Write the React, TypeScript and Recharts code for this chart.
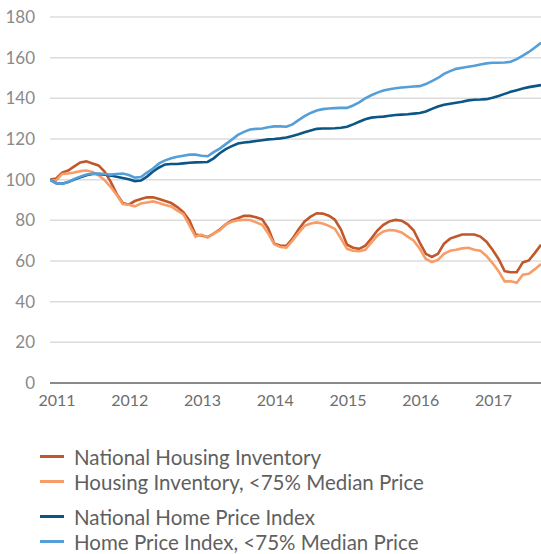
import { CartesianGrid, Line, LineChart, XAxis, YAxis } from "recharts";

const months = Array.from({ length: 82 }, (_, i) => i);

const nationalInventory = [
  100, 100.5, 103.5, 104.5, 106.5, 108.5, 109, 108, 107, 104,
  99, 93, 88.5, 87.7, 89.5, 90.5, 91.3, 91.3, 90.5, 89.5,
  88.5, 86.5, 84, 80, 73, 72.5, 71.8, 73.5, 75.5, 78,
  80, 81, 82.2, 82.2, 81.5, 80.5, 76, 68.5, 67.6, 67.5,
  71, 75.5, 79.5, 81.8, 83.5, 83.3, 82.3, 80.3, 75.5, 68,
  66.5, 66, 67.5, 71, 75, 77.8, 79.5, 80.2, 79.8, 78,
  75, 69, 63.5, 62, 63.5, 68.5, 71, 72, 73, 73,
  73, 72, 69.5, 65.5, 61, 55, 54.5, 54.5, 59.3, 60.3,
  64, 68,
];

const lowTierInventory = [
  100, 99.5, 102.8, 103, 103.5, 104.2, 104.5, 103.8, 102.2, 99.8,
  96.5, 92.5, 88, 87.7, 86.9, 88.3, 88.8, 89.3, 88.5, 87.5,
  86.8, 84.8, 83, 77.5, 72, 73, 71.5, 73.5, 75, 78,
  79.3, 80, 80.3, 80.2, 79, 77.8, 73.5, 68.2, 66.9, 66.6,
  70, 73.8, 77.3, 78.4, 79, 78.4, 77.3, 75.8, 71, 66,
  65, 64.8, 65.5, 69, 72.5, 74.5, 75.2, 75, 74, 72,
  70, 66, 61, 59.5, 60.5, 63.5, 65, 65.5, 66.2, 66.5,
  65.5, 65, 62.5, 59, 55, 50, 50, 49.3, 53.3, 53.7,
  56, 58.5,
];

const nationalHpi = [
  100, 98.3, 98, 98.8, 100, 101.2, 102.2, 102.8, 102.8, 102.5,
  102, 101.4, 100.8, 100.2, 99.3, 99.6, 101.5, 104, 106, 107.5,
  107.7, 107.7, 108, 108.3, 108.5, 108.6, 108.7, 110.5, 113, 115,
  116.5, 117.8, 118.3, 118.6, 119, 119.4, 119.8, 120, 120.3, 120.7,
  121.5, 122.3, 123.3, 124.2, 125, 125.2, 125.2, 125.3, 125.5, 126,
  127.2, 128.5, 129.7, 130.5, 130.8, 131, 131.4, 131.8, 132, 132.2,
  132.5, 132.8, 133.5, 134.8, 136, 136.8, 137.3, 137.8, 138.3, 139,
  139.3, 139.4, 139.6, 140.3, 141.2, 142.2, 143.2, 144, 144.8, 145.5,
  146, 146.5,
];

const lowTierHpi = [
  100, 98.4, 97.9, 98.8, 100.3, 101.5, 102.5, 102.9, 103, 102.8,
  102.5, 102.8, 103, 102.3, 101, 101.3, 103.5, 105.5, 108, 109.5,
  110.5, 111.3, 111.8, 112.3, 112.3, 111.8, 111.5, 113.5, 115.3, 117.5,
  119.7, 122, 123.5, 124.7, 125, 125.2, 125.8, 126.2, 126.2, 126,
  127.2, 129.3, 131.2, 132.8, 134, 134.7, 135, 135.2, 135.3, 135.3,
  136.5, 138, 140, 141.5, 142.8, 143.8, 144.5, 145, 145.3, 145.6,
  145.8, 146, 147, 148.5, 150, 152, 153.4, 154.5, 155, 155.5,
  156, 156.6, 157.2, 157.5, 157.5, 157.6, 158, 159.3, 161, 162.8,
  165, 167.3,
];

const yearTicks = [0, 12, 24, 36, 48, 60, 72];
const valueTicks = [0, 20, 40, 60, 80, 100, 120, 140, 160, 180];

const series = [
  { key: "nationalInventory", name: "National Housing Inventory", color: "#c0582b" },
  { key: "lowTierInventory", name: "Housing Inventory, <75% Median Price", color: "#f79d68" },
  { key: "nationalHpi", name: "National Home Price Index", color: "#0b5587" },
  { key: "lowTierHpi", name: "Home Price Index, <75% Median Price", color: "#559fd8" },
];

const data = months.map((m) => ({
  m,
  nationalInventory: nationalInventory[m],
  lowTierInventory: lowTierInventory[m],
  nationalHpi: nationalHpi[m],
  lowTierHpi: lowTierHpi[m],
}));

const FONT = "Lato, 'Noto Sans', sans-serif";

function LegendBlock() {
  return (
    <div style={{ position: "absolute", left: 0, top: 444, fontFamily: FONT, fontSize: 20.5, color: "#5f5f5f" }}>
      {series.map((s, i) => (
        <div
          key={s.key}
          style={{
            display: "flex",
            alignItems: "center",
            height: 25,
            marginTop: i === 2 ? 10 : 0,
            whiteSpace: "nowrap",
          }}
        >
          <span style={{ display: "inline-block", width: 24, height: 3, background: s.color, marginLeft: 40, marginRight: 10 }} />
          <span>{s.name}</span>
        </div>
      ))}
    </div>
  );
}

export default function App() {
  return (
    <div style={{ position: "absolute", left: 0, top: 0, width: 541, height: 554, background: "#fff" }}>
      <LineChart width={541} height={420} data={data} margin={{ top: 17, right: 0, left: 0, bottom: 0 }}>
        <CartesianGrid vertical={false} stroke="#dcdcdc" strokeWidth={1.5} />
        <XAxis
          dataKey="m"
          type="number"
          domain={[0, 81]}
          ticks={yearTicks}
          tickFormatter={(m) => `${2011 + m / 12}`}
          tickLine={false}
          axisLine={{ stroke: "#6b6b6b", strokeWidth: 1.5 }}
          tick={{ fill: "#6e6e6e", fontSize: 16, fontFamily: FONT, dx: 7 }}
          tickMargin={6}
          height={37}
          interval={0}
          allowDataOverflow
        />
        <YAxis
          domain={[0, 180]}
          ticks={valueTicks}
          width={50}
          tickLine={false}
          axisLine={false}
          tick={{ fill: "#8a8a8a", fontSize: 17, fontFamily: FONT }}
          tickMargin={9}
          interval={0}
        />
        {series.map((s) => (
          <Line
            key={s.key}
            dataKey={s.key}
            name={s.name}
            type="linear"
            stroke={s.color}
            strokeWidth={2.6}
            dot={false}
            isAnimationActive={false}
          />
        ))}
      </LineChart>
      <LegendBlock />
    </div>
  );
}
